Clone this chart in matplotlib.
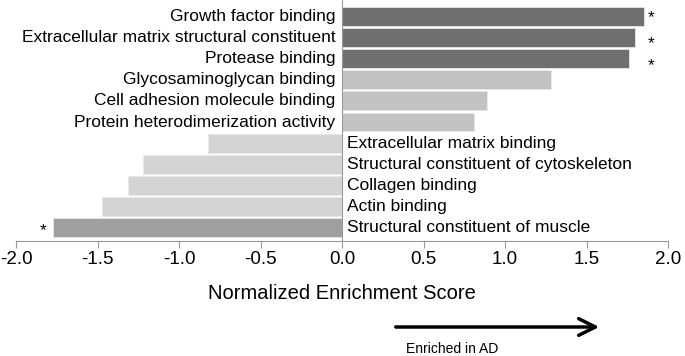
import matplotlib
matplotlib.use('Agg')
import matplotlib.pyplot as plt
import numpy as np

plt.rcParams['font.family'] = ['Liberation Sans', 'DejaVu Sans']

terms = ['Growth factor binding', 'Extracellular matrix structural constituent', 'Protease binding',
         'Glycosaminoglycan binding', 'Cell adhesion molecule binding', 'Protein heterodimerization activity',
         'Extracellular matrix binding', 'Structural constituent of cytoskeleton', 'Collagen binding',
         'Actin binding', 'Structural constituent of muscle']
nes = [1.85, 1.80, 1.76, 1.28, 0.89, 0.81, -0.82, -1.22, -1.31, -1.47, -1.77]
signif = [True, True, True, False, False, False, False, False, False, False, True]

fig = plt.figure(figsize=(6.85, 3.56), dpi=100)
ax = fig.add_axes([16/685, 1-241/356, 652/685, 238/356])

cols = []
for v, s in zip(nes, signif):
    if s and v > 0:
        cols.append('#6f6f6f')
    elif s:
        cols.append('#9f9f9f')
    elif v > 0:
        cols.append('#c2c2c2')
    else:
        cols.append('#d4d4d4')

y = np.arange(len(terms))
ax.barh(y, nes, height=0.9, color=cols, edgecolor='#e8e8e8', linewidth=0.6)

# star offsets (vertical nudge) for the positive significant ones
star_dy = [0.03, 0.3, 0.34]
k = 0
for i, (t, v, s) in enumerate(zip(terms, nes, signif)):
    if v > 0:
        ax.text(-0.04, i, t, ha='right', va='center', fontsize=12.5)
        if s:
            ax.text(1.896, i + star_dy[k], '*', ha='center', va='center', fontsize=12.5)
            k += 1
    else:
        ax.text(0.03, i, t, ha='left', va='center', fontsize=12.5)
        if s:
            ax.text(-1.835, i + 0.14, '*', ha='center', va='center', fontsize=12.5)

ax.set_xlim(-2.0, 2.0)
ax.set_ylim(len(terms) - 0.35, -0.65)
ticks = np.arange(-2.0, 2.01, 0.5)
ax.set_xticks(ticks)
ax.set_xticklabels(['%.1f' % v for v in ticks], fontsize=13.5)
ax.set_yticks([])
ax.tick_params(axis='x', direction='out', length=5, width=0.8, color='#999999', pad=2)
for sp in ['top', 'right', 'left']:
    ax.spines[sp].set_visible(False)
ax.spines['bottom'].set_color('#999999')
ax.spines['bottom'].set_linewidth(0.8)
ax.axvline(0, color='#999999', linewidth=0.8, ymax=1.02, clip_on=False)
ax.set_xlabel('Normalized Enrichment Score', fontsize=14.5, labelpad=12)

fig.patches.append(matplotlib.patches.FancyArrowPatch(
    (393/685, 1-327/356), (602/685, 1-327/356), transform=fig.transFigure,
    arrowstyle='->', mutation_scale=30, linewidth=2.5, color='black'))
fig.text(452/685, 1-349/356, 'Enriched in AD', ha='center', va='center', fontsize=10)

fig.savefig('out.png', dpi=100)
